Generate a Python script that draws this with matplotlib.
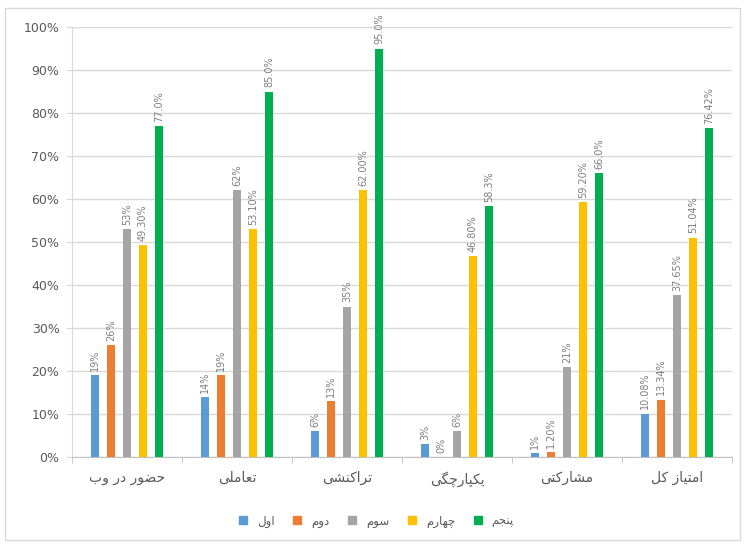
import matplotlib
matplotlib.use("Agg")
import matplotlib.pyplot as plt
import numpy as np
from matplotlib.patches import Rectangle
from matplotlib.lines import Line2D

# ---------------- data ----------------
categories = ["حضور در وب", "تعاملی", "تراکنشی", "یکپارچگی", "مشارکتی", "امتیاز کل"]
series_names = ["اول", "دوم", "سوم", "چهارم", "پنجم"]
s1 = [19, 14, 6, 3, 1, 10.08]
s2 = [26, 19, 13, 0, 1.2, 13.34]
s3 = [53, 62, 35, 6, 21, 37.65]
s4 = [49.30, 53.10, 62.00, 46.80, 59.20, 51.04]
s5 = [77.0, 85.0, 95.0, 58.3, 66.0, 76.42]
l1 = ["19%", "14%", "6%", "3%", "1%", "10.08%"]
l2 = ["26%", "19%", "13%", "0%", "1.20%", "13.34%"]
l3 = ["53%", "62%", "35%", "6%", "21%", "37.65%"]
l4 = ["49.30%", "53.10%", "62.00%", "46.80%", "59.20%", "51.04%"]
l5 = ["77.0%", "85.0%", "95.0%", "58.3%", "66.0%", "76.42%"]
yticks = [0, 10, 20, 30, 40, 50, 60, 70, 80, 90, 100]
colors = ["#5B9BD5", "#ED7D31", "#A5A5A5", "#FFC000", "#00B050"]

# ------------- minimal Persian shaping (presentation forms + RTL order) -------------
FORMS = {
    'ا': ('\uFE8D', '\uFE8E'),
    'ب': ('\uFE8F', '\uFE90', '\uFE91', '\uFE92'),
    'ت': ('\uFE95', '\uFE96', '\uFE97', '\uFE98'),
    'ج': ('\uFE9D', '\uFE9E', '\uFE9F', '\uFEA0'),
    'ح': ('\uFEA1', '\uFEA2', '\uFEA3', '\uFEA4'),
    'د': ('\uFEA9', '\uFEAA'),
    'ر': ('\uFEAD', '\uFEAE'),
    'ز': ('\uFEAF', '\uFEB0'),
    'س': ('\uFEB1', '\uFEB2', '\uFEB3', '\uFEB4'),
    'ش': ('\uFEB5', '\uFEB6', '\uFEB7', '\uFEB8'),
    'ض': ('\uFEBD', '\uFEBE', '\uFEBF', '\uFEC0'),
    'ع': ('\uFEC9', '\uFECA', '\uFECB', '\uFECC'),
    'ل': ('\uFEDD', '\uFEDE', '\uFEDF', '\uFEE0'),
    'م': ('\uFEE1', '\uFEE2', '\uFEE3', '\uFEE4'),
    'ن': ('\uFEE5', '\uFEE6', '\uFEE7', '\uFEE8'),
    'ه': ('\uFEE9', '\uFEEA', '\uFEEB', '\uFEEC'),
    'و': ('\uFEED', '\uFEEE'),
    'پ': ('\uFB56', '\uFB57', '\uFB58', '\uFB59'),
    'چ': ('\uFB7A', '\uFB7B', '\uFB7C', '\uFB7D'),
    'ک': ('\uFB8E', '\uFB8F', '\uFB90', '\uFB91'),
    'گ': ('\uFB92', '\uFB93', '\uFB94', '\uFB95'),
    'ی': ('\uFBFC', '\uFBFD', '\uFBFE', '\uFBFF'),
}


def shape(text):
    out = []
    n = len(text)
    for i, ch in enumerate(text):
        if ch not in FORMS:
            out.append(ch)
            continue
        f = FORMS[ch]
        prev = text[i - 1] if i > 0 else None
        nxt = text[i + 1] if i < n - 1 else None
        jp = prev in FORMS and len(FORMS[prev]) == 4
        jn = len(f) == 4 and nxt in FORMS
        if jp and jn:
            out.append(f[3])
        elif jp:
            out.append(f[1])
        elif jn:
            out.append(f[2])
        else:
            out.append(f[0])
    return "".join(out)[::-1]


# ---------------- figure ----------------
plt.rcParams['font.family'] = ['DejaVu Sans']
fig = plt.figure(figsize=(7.45, 5.47), dpi=100)
ax = fig.add_axes([72 / 745, 1 - 457 / 547, 660 / 745, 430 / 547])

fig.patches.append(Rectangle((5 / 745, 1 - 540 / 547), 735 / 745, 532 / 547,
                             transform=fig.transFigure, fill=False,
                             edgecolor="#D9D9D9", linewidth=1))

x = np.arange(len(categories))
series = [s1, s2, s3, s4, s5]
labels = [l1, l2, l3, l4, l5]
w = 0.072
step = 0.145
for k, (vals, labs) in enumerate(zip(series, labels)):
    pos = x + (k - 2) * step
    ax.bar(pos, vals, width=w, color=colors[k], zorder=3)
    for p, v, lab in zip(pos, vals, labs):
        ax.annotate(lab, (p, v), xytext=(0, 3), textcoords="offset points",
                    rotation=90, ha="center", va="bottom", fontsize=7,
                    color="#7F7F7F", zorder=4)

ax.set_xlim(-0.5, len(categories) - 0.5)
ax.set_ylim(0, 100)
ax.set_yticks(yticks)
ax.set_yticklabels([f"{t}%" for t in yticks], fontsize=9, color="#595959")
ax.yaxis.grid(True, color="#D9D9D9", linewidth=1, zorder=0)
ax.tick_params(axis="y", length=4, color="#D9D9D9", pad=5)

ax.set_xticks(x)
ax.set_xticklabels([shape(c) for c in categories], fontsize=10, color="#595959")
ax.set_xticks(np.arange(-0.5, len(categories) + 0.5, 1), minor=True)
ax.tick_params(axis="x", which="major", length=0, pad=10)
ax.tick_params(axis="x", which="minor", length=4, color="#BFBFBF")

for s in ["top", "right"]:
    ax.spines[s].set_visible(False)
ax.spines["left"].set_color("#D9D9D9")
ax.spines["bottom"].set_color("#BFBFBF")

handles = [Line2D([], [], marker="s", linestyle="none", markersize=6,
                  color=colors[k]) for k in range(5)]
fig.legend(handles, [shape(s) for s in series_names], loc="center",
           bbox_to_anchor=(0.5, 1 - 521 / 547), ncol=5, frameon=False,
           fontsize=8.5, handletextpad=0.2, columnspacing=0.9,
           labelcolor="#595959")

fig.savefig("out.png", dpi=100)
